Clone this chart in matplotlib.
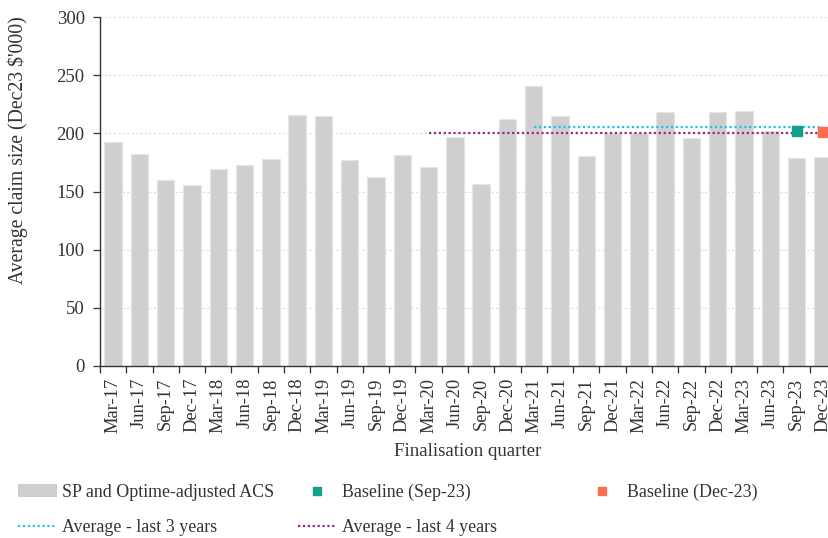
import matplotlib
matplotlib.use("Agg")
import matplotlib.pyplot as plt
import numpy as np
from matplotlib.patches import Patch
from matplotlib.lines import Line2D

plt.rcParams['font.family'] = ['Liberation Serif', 'DejaVu Serif']

quarters = ["Mar-17", "Jun-17", "Sep-17", "Dec-17", "Mar-18", "Jun-18", "Sep-18", "Dec-18",
            "Mar-19", "Jun-19", "Sep-19", "Dec-19", "Mar-20", "Jun-20", "Sep-20", "Dec-20",
            "Mar-21", "Jun-21", "Sep-21", "Dec-21", "Mar-22", "Jun-22", "Sep-22", "Dec-22",
            "Mar-23", "Jun-23", "Sep-23", "Dec-23"]
acs = [192.3, 182.2, 159.9, 155.3, 169.1, 172.8, 178.2, 215.8,
       215.2, 177.1, 162.2, 181.4, 171.3, 196.6, 156.2, 212.1,
       240.4, 215.2, 180.5, 200.0, 200.0, 218.6, 196.3, 218.6,
       219.2, 202.0, 178.5, 179.7]
avg_3y = 205.2
avg_3y_start = "Mar-21"
avg_4y = 200.3
avg_4y_start = "Mar-20"
baseline_sep23 = 202.3
baseline_dec23 = 201.4

W, H = 829, 538
fig = plt.figure(figsize=(W / 100, H / 100), dpi=100)
ax = fig.add_axes([100 / W, 1 - 366 / H, 736 / W, 349 / H])

x = np.arange(len(quarters))
text_col = '#333333'
ax.bar(x, acs, width=0.66, color='#D0CECF', edgecolor='#E6E5E6', linewidth=0.8, zorder=2)

i3 = quarters.index(avg_3y_start)
i4 = quarters.index(avg_4y_start)
x3 = x[i3:]
x4 = x[i4:]
ax.plot(x3, [avg_3y] * len(x3), linestyle=(0, (1, 1.2)), color='#22C4E4', linewidth=1.6, zorder=3)
ax.plot(x4, [avg_4y] * len(x4), linestyle=(0, (1, 1.2)), color='#8E2C8E', linewidth=1.6, zorder=3)
ax.plot([quarters.index("Sep-23")], [baseline_sep23], marker='s', markersize=7, color='#10A08C',
        linestyle='none', zorder=4)
ax.plot([quarters.index("Dec-23")], [baseline_dec23], marker='s', markersize=7, color='#FF6B4E',
        linestyle='none', zorder=4)

ax.set_xlim(-0.5, len(quarters) - 0.5)
ax.set_ylim(0, 300)
ax.set_yticks(np.arange(0, 301, 50))
ax.yaxis.grid(True, color='#DDDDDD', linestyle=(0, (2, 2)), linewidth=0.8, zorder=0)
ax.set_axisbelow(True)

ax.set_xticks(np.arange(-0.5, len(quarters), 1.0))
ax.set_xticklabels([])
ax.set_xticks(x, minor=True)
ax.set_xticklabels(quarters, minor=True, rotation=90, fontsize=13.3, color=text_col)
ax.tick_params(axis='x', which='major', length=5, color='#333333', width=0.9)
ax.tick_params(axis='x', which='minor', length=0, pad=8.5)
ax.tick_params(axis='y', length=5, color='#333333', width=0.9, labelsize=13.4,
               labelcolor=text_col, pad=6)

for s in ['top', 'right']:
    ax.spines[s].set_visible(False)
for s in ['left', 'bottom']:
    ax.spines[s].set_color('#333333')
    ax.spines[s].set_linewidth(1.0)

ax.set_ylabel("Average claim size (Dec23 $'000)", fontsize=14.2, color=text_col)
ax.yaxis.set_label_coords((18 - 100) / 736, (366 - 150) / 349)
ax.set_xlabel("Finalisation quarter", fontsize=13.6, color=text_col)
ax.xaxis.set_label_coords(0.5, (366 - 452) / 349)
ax.xaxis.label.set_va('center')
ax.yaxis.label.set_va('center')

leg_kw = dict(frameon=False, fontsize=12.9, handlelength=2.15, handletextpad=0.3,
              labelspacing=1.0, borderaxespad=0, borderpad=0, labelcolor=text_col)
h_bar = Patch(facecolor='#D0CECF', edgecolor='none')
h_3y = Line2D([], [], linestyle=(0, (1, 1.2)), color='#22C4E4', linewidth=1.6)
h_4y = Line2D([], [], linestyle=(0, (1, 1.2)), color='#8E2C8E', linewidth=1.6)
h_sep = Line2D([], [], marker='s', markersize=6, color='#10A08C', linestyle='none')
h_dec = Line2D([], [], marker='s', markersize=6, color='#FF6B4E', linestyle='none')

top = 1 - 484 / H
fig.legend([h_bar, h_3y], ["SP and Optime-adjusted ACS", "Average - last 3 years"],
           loc='upper left', bbox_to_anchor=(18 / W, top), **leg_kw)
fig.legend([h_sep, h_4y], ["Baseline (Sep-23)", "Average - last 4 years"],
           loc='upper left', bbox_to_anchor=(298 / W, top), **leg_kw)
fig.legend([h_dec], ["Baseline (Dec-23)"],
           loc='upper left', bbox_to_anchor=(583 / W, top), **leg_kw)

fig.savefig("out.png", dpi=100)
